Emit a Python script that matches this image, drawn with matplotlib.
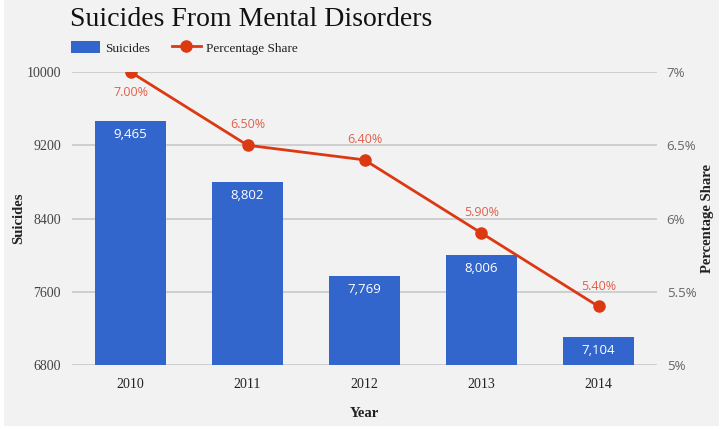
import matplotlib
matplotlib.use("Agg")
import matplotlib.pyplot as plt
from matplotlib.patches import Rectangle
from matplotlib.lines import Line2D
from matplotlib.ticker import FixedLocator

years = ["2010", "2011", "2012", "2013", "2014"]
suicides = [9465, 8802, 7769, 8006, 7104]
share = [7.00, 6.50, 6.40, 5.90, 5.40]
left_ticks = [6800, 7600, 8400, 9200, 10000]
right_ticks = [5, 5.5, 6, 6.5, 7]
right_tick_labels = ["5%", "5.5%", "6%", "6.5%", "7%"]

BLUE = "#3366cc"
RED = "#dc3912"
BG = "#f2f2f2"
SERIF = ["Liberation Serif", "DejaVu Serif"]
SANS = ["Open Sans", "DejaVu Sans"]

W, H = 725, 429
fig = plt.figure(figsize=(W / 100, H / 100), dpi=100)
fig.patch.set_facecolor("white")
fig.patches.append(Rectangle((4 / W, 3 / H), (719 - 4) / W, (H - 3) / H,
                             transform=fig.transFigure, facecolor=BG,
                             edgecolor="none", zorder=-10))

AX_L, AX_R, AX_T, AX_B = 72, 657, 72, 365
ax = fig.add_axes([AX_L / W, 1 - AX_B / H, (AX_R - AX_L) / W, (AX_B - AX_T) / H])
ax.set_facecolor("none")
x = list(range(len(years)))
ax.bar(x, suicides, width=0.615, color=BLUE, zorder=2)
ax.set_xlim(-0.5, len(years) - 0.5)
ax.set_ylim(6800, 10000)
ax.yaxis.set_major_locator(FixedLocator(left_ticks))
ax.set_yticklabels([str(v) for v in left_ticks], fontfamily=SERIF, fontsize=10, color="#444444")
ax.set_xticks(x)
ax.set_xticklabels(years, fontfamily=SERIF, fontsize=10, color="#222222")
ax.tick_params(axis="x", length=0, pad=9)
ax.tick_params(axis="y", length=0, pad=8)
ax.grid(axis="y", color="#cccccc", linewidth=1.3, zorder=0)
for s in ax.spines.values():
    s.set_visible(False)
for xi, v in zip(x, suicides):
    ax.annotate(f"{v:,}", (xi, v), xytext=(0, -5), textcoords="offset points",
                ha="center", va="top", color="white", fontsize=9.5,
                fontfamily=SANS, zorder=3)
ax.set_ylabel("Suicides", fontfamily=SERIF, fontsize=10.5, fontweight="bold",
              color="#222222")
ax.yaxis.set_label_coords((25 - AX_L) / (AX_R - AX_L), 0.5)
ax.set_xlabel("Year", fontfamily=SERIF, fontsize=10.5, fontweight="bold",
              color="#222222", labelpad=12)

ax2 = ax.twinx()
ax2.plot(x, share, color=RED, linewidth=2, marker="o", markersize=8, zorder=4)
ax2.set_ylim(5, 7)
ax2.yaxis.set_major_locator(FixedLocator(right_ticks))
ax2.set_yticklabels(right_tick_labels, fontfamily=SANS, fontsize=9.5, color="#666666")
ax2.tick_params(axis="y", length=0, pad=7)
for s in ax2.spines.values():
    s.set_visible(False)
for i, (xi, v) in enumerate(zip(x, share)):
    if i == 0:
        off, va = (0, -10), "top"
    else:
        off, va = (0, 10), "bottom"
    ax2.annotate(f"{v:.2f}%", (xi, v), xytext=off, textcoords="offset points",
                 ha="center", va=va, color="#e0604a", fontsize=9,
                 fontfamily=SANS, zorder=5)
ax2.set_ylabel("Percentage Share", fontfamily=SERIF, fontsize=10.5, fontweight="bold",
               color="#222222")
ax2.yaxis.set_label_coords((701 - AX_L) / (AX_R - AX_L), 0.5)

fig.text(70 / W, 1 - 19 / H, "Suicides From Mental Disorders", fontfamily=SERIF,
         fontsize=20, color="#111111", va="center", ha="left")

handles = [Rectangle((0, 0), 1, 1, facecolor=BLUE),
           Line2D([0], [0], color=RED, linewidth=2, marker="o", markersize=8)]
leg = fig.legend(handles, ["Suicides", "Percentage Share"], loc="center left",
                 bbox_to_anchor=(62 / W, 1 - 48 / H), ncol=2, frameon=False,
                 prop={"family": SERIF, "size": 9.5}, handlelength=2.2,
                 handleheight=1.0, columnspacing=1.6, handletextpad=0.4,
                 borderpad=0.2)
for t in leg.get_texts():
    t.set_color("#222222")

fig.savefig("out.png", dpi=100, facecolor=fig.get_facecolor())
